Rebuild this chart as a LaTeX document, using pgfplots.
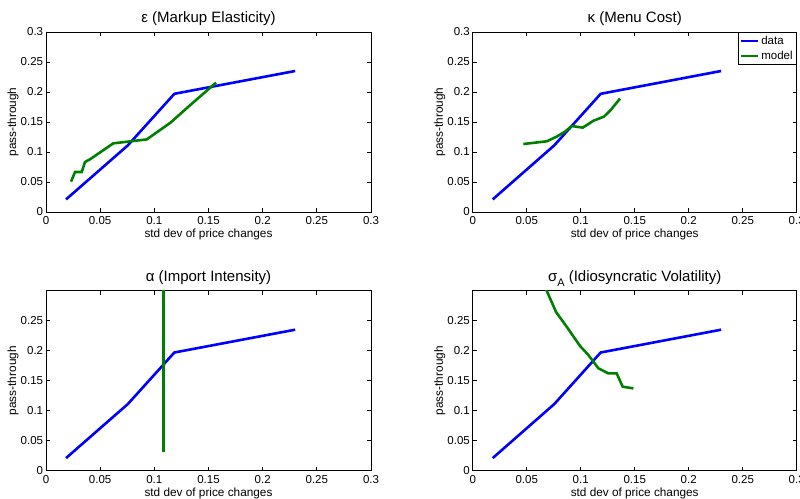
\documentclass[border=0pt]{standalone}
\usepackage{fontspec}
\setmainfont{Liberation Sans}
\usepackage{pgfplots}
\pgfplotsset{compat=1.18}
\definecolor{mblue}{rgb}{0,0,1}
\definecolor{mgreen}{rgb}{0,0.5,0}

\pgfplotsset{
  mat/.style={
    scale only axis, width=325pt, height=180pt,
    xmin=0, xmax=0.3, ymin=0, ymax=0.3,
    xtick={0,0.05,0.1,0.15,0.2,0.25,0.3},
    xticklabels={0,0.05,0.1,0.15,0.2,0.25,0.3},
    tick pos=both, tick align=inside, major tick length=4pt,
    axis line style={line width=0.9pt},
    every tick/.style={black, line width=0.8pt},
    tick label style={font=\fontsize{11.5}{12}\selectfont},
    xticklabel style={anchor=base, yshift=-12.7pt, inner sep=0pt},
    yticklabel style={anchor=east, inner sep=0pt, xshift=-2.7pt},
    xlabel={std dev of price changes}, ylabel={pass-through},
    label style={font=\fontsize{11.8}{12}\selectfont},
    xlabel style={at={(axis description cs:0.5,0)}, anchor=base, yshift=-25.5pt, inner sep=0pt},
    ylabel style={at={(axis description cs:0,0.5)}, anchor=center, yshift=33pt, inner sep=0pt},
    title style={at={(axis description cs:0.5,1)}, anchor=base, yshift=3.5pt, inner sep=0pt,
      font=\fontsize{15}{16}\selectfont},
  },
  dat/.style={mblue, line width=2.6pt},
  mod/.style={mgreen, line width=2.6pt},
}

\begin{document}
\begin{tikzpicture}

% top left
\begin{axis}[mat, at={(46pt,286pt)}, anchor=south west,
  ytick={0,0.05,0.1,0.15,0.2,0.25,0.3},
  yticklabels={0,0.05,0.1,0.15,0.2,0.25,0.3},
  title={ε (Markup Elasticity)}]
\addplot[dat] coordinates {(0.0185,0.021) (0.0755,0.111) (0.1185,0.197) (0.23,0.235)};
\addplot[mod] coordinates {
  (0.0231,0.0506) (0.0268,0.0667) (0.033,0.0667) (0.036,0.0833) (0.0406,0.0878)
  (0.0621,0.1144) (0.093,0.121) (0.115,0.149) (0.133,0.178) (0.157,0.2156)};
\end{axis}

% top right
\begin{axis}[mat, at={(472.7pt,286pt)}, anchor=south west, width=324pt,
  ytick={0,0.05,0.1,0.15,0.2,0.25,0.3},
  yticklabels={0,0.05,0.1,0.15,0.2,0.25,0.3},
  title={κ (Menu Cost)},
  legend style={at={(1,1)}, anchor=north east, draw=black, line width=1.2pt,
    inner xsep=1.5pt, inner ysep=1.5pt, font=\fontsize{11.5}{12}\selectfont,
    row sep=1pt},
  legend cell align=left,
  legend image code/.code={\draw[#1] (0pt,0pt) -- (17pt,0pt);}]
\addplot[dat] coordinates {(0.0185,0.021) (0.0755,0.111) (0.1185,0.197) (0.23,0.235)};
\addplot[mod] coordinates {
  (0.0469,0.1133) (0.0685,0.1178) (0.0778,0.1256) (0.0855,0.134) (0.0917,0.1433)
  (0.1019,0.1406) (0.1117,0.152) (0.1216,0.159) (0.1278,0.170) (0.1364,0.189)};
\legend{data,model}
\end{axis}

% bottom left
\begin{axis}[mat, at={(46pt,27.3pt)}, anchor=south west,
  ytick={0,0.05,0.1,0.15,0.2,0.25},
  yticklabels={0,0.05,0.1,0.15,0.2,0.25},
  title={α (Import Intensity)}]
\addplot[dat] coordinates {(0.0185,0.021) (0.0755,0.111) (0.1185,0.197) (0.23,0.235)};
\addplot[mod] coordinates {(0.1086,0.0306) (0.1086,0.35)};
\end{axis}

% bottom right
\begin{axis}[mat, at={(472.7pt,27.3pt)}, anchor=south west, width=324pt,
  ytick={0,0.05,0.1,0.15,0.2,0.25},
  yticklabels={0,0.05,0.1,0.15,0.2,0.25},
  title={σ\raisebox{-5.5pt}{\fontsize{11}{11}\selectfont A} (Idiosyncratic Volatility)}]
\addplot[dat] coordinates {(0.0185,0.021) (0.0755,0.111) (0.1185,0.197) (0.23,0.235)};
\addplot[mod] coordinates {
  (0.0655,0.315) (0.0685,0.300) (0.0772,0.2644) (0.087,0.240) (0.0994,0.2078)
  (0.1071,0.1928) (0.1164,0.1706) (0.1256,0.1622) (0.1333,0.1622) (0.1389,0.14)
  (0.1488,0.1372)};
\end{axis}

\pgfresetboundingbox
\path[use as bounding box] (0,0) rectangle (800pt,498pt);
\end{tikzpicture}
\end{document}
